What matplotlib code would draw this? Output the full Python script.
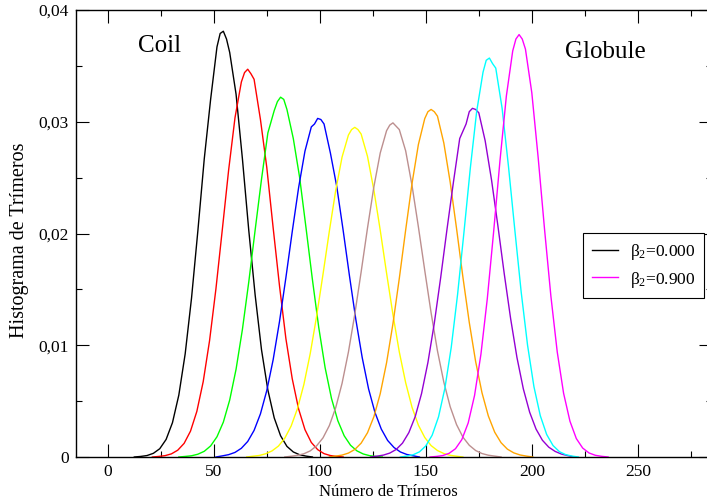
import matplotlib
matplotlib.use('Agg')
import matplotlib.pyplot as plt
import numpy as np
from matplotlib.ticker import MultipleLocator, FixedLocator

# histogram values, sampled every 3 trimers starting at x_start
x_start = [12.5, 21, 33.5, 51, 65.5, 83.5, 104.5, 124, 138, 152]
x_step = 3

black = [0.0, 0.00005, 0.00013, 0.00033, 0.00074, 0.00157, 0.00307, 0.00554, 0.00923, 0.01423,
         0.02027, 0.02668, 0.0320, 0.0367, 0.0381, 0.0362, 0.03247, 0.02668, 0.02027, 0.01450,
         0.00960, 0.00600, 0.00350, 0.00190, 0.00095, 0.00045, 0.00020, 0.00008, 0.0]
red = [0.0, 0.00005, 0.00012, 0.00028, 0.00061, 0.00122, 0.00231, 0.00408, 0.00674, 0.01041,
       0.01504, 0.02032, 0.02568, 0.03036, 0.03356, 0.0347, 0.03380, 0.03020, 0.02590, 0.02050,
       0.01530, 0.01060, 0.00700, 0.00430, 0.00245, 0.00130, 0.00066, 0.00030, 0.00013, 0.00005, 0.0]
green = [0.0, 0.00005, 0.00011, 0.00025, 0.00051, 0.00099, 0.00181, 0.00312, 0.00510, 0.00785,
         0.01142, 0.01567, 0.02031, 0.02485, 0.02900, 0.03100, 0.0322, 0.03110, 0.02850, 0.02500,
         0.02050, 0.01590, 0.01160, 0.00800, 0.00525, 0.00325, 0.00190, 0.00105, 0.00055, 0.00027,
         0.00012, 0.00005, 0.0]
blue = [0.0, 0.00010, 0.00021, 0.00041, 0.00078, 0.00139, 0.00238, 0.00386, 0.00595, 0.00871,
        0.01213, 0.01604, 0.02017, 0.02410, 0.02737, 0.02954, 0.0303, 0.02980, 0.02720, 0.02420,
        0.02030, 0.01620, 0.01230, 0.00890, 0.00610, 0.00400, 0.00250, 0.00148, 0.00085, 0.00045,
        0.00023, 0.00011, 0.0]
yellow = [0.0, 0.00007, 0.00014, 0.00029, 0.00055, 0.00098, 0.00169, 0.00278, 0.00435, 0.00650,
          0.00927, 0.01260, 0.01634, 0.02021, 0.02385, 0.02684, 0.02881, 0.0295, 0.02890, 0.02690,
          0.02390, 0.02030, 0.01645, 0.01275, 0.00940, 0.00665, 0.00445, 0.00285, 0.00175, 0.00102,
          0.00058, 0.00031, 0.00015, 0.00007, 0.0]
brown = [0.0, 0.00007, 0.00015, 0.00029, 0.00055, 0.00100, 0.00171, 0.00281, 0.00441, 0.00659,
         0.00939, 0.01277, 0.01656, 0.02049, 0.02417, 0.02720, 0.02920, 0.0299, 0.02930, 0.02740,
         0.02430, 0.02060, 0.01670, 0.01290, 0.00950, 0.00670, 0.00450, 0.00290, 0.00178, 0.00105,
         0.00058, 0.00031, 0.00016, 0.00008, 0.0]
orange = [0.0, 0.00008, 0.00017, 0.00035, 0.00067, 0.00124, 0.00217, 0.00360, 0.00566, 0.00844,
          0.01192, 0.01598, 0.02031, 0.02447, 0.02796, 0.03028, 0.0311, 0.03050, 0.02810, 0.02460,
          0.02045, 0.01610, 0.01205, 0.00855, 0.00575, 0.00367, 0.00222, 0.00128, 0.00070, 0.00037,
          0.00018, 0.00008, 0.0]
purple = [0.0, 0.00008, 0.00017, 0.00035, 0.00067, 0.00124, 0.00218, 0.00361, 0.00568, 0.00846,
          0.01196, 0.01603, 0.02038, 0.02455, 0.02850, 0.02980, 0.0312, 0.03080, 0.02830, 0.02480,
          0.02070, 0.01640, 0.01240, 0.00890, 0.00610, 0.00400, 0.00250, 0.00150, 0.00088, 0.00050,
          0.00026, 0.00012, 0.0]
cyan = [0.0, 0.00008, 0.00020, 0.00046, 0.00099, 0.00195, 0.00359, 0.00615, 0.00981, 0.01456,
        0.02011, 0.02585, 0.03093, 0.03444, 0.0357, 0.03480, 0.03120, 0.02600, 0.02030, 0.01475,
        0.01000, 0.00630, 0.00370, 0.00202, 0.00103, 0.00048, 0.00021, 0.00008, 0.0]
magenta = [0.0, 0.00005, 0.00013, 0.00033, 0.00074, 0.00156, 0.00305, 0.00551, 0.00919, 0.01415,
           0.02016, 0.02654, 0.03230, 0.03634, 0.0378, 0.03650, 0.03260, 0.02680, 0.02040, 0.01440,
           0.00940, 0.00570, 0.00320, 0.00165, 0.00080, 0.00036, 0.00015, 0.00006, 0.0]

# extra readings just either side of each peak
peak_x = [54.5, 66, 81.5, 99, 116.5, 134.5, 152.5, 172, 180, 194]
near_peak_left = [0.0379, 0.0344, 0.0318, 0.0298, 0.0293, 0.0297, 0.0309, 0.0309, 0.0355, 0.0374]
near_peak_right = [0.0374, 0.0343, 0.0320, 0.0302, 0.0293, 0.0296, 0.0309, 0.0311, 0.0352, 0.0374]

series = [black, red, green, blue, yellow, brown, orange, purple, cyan, magenta]
colors = ['#000000', '#ff0000', '#00ff00', '#0000ff', '#ffff00', '#bc8f8f', '#ffa500',
          '#9400d3', '#00ffff', '#ff00ff']
labels = [r'$\mathregular{β_2}$=0.000'] + [None] * 8 + [r'$\mathregular{β_2}$=0.900']

x_ticks = [0, 50, 100, 150, 200, 250]
y_ticks = [0, 0.01, 0.02, 0.03, 0.04]
y_tick_labels = ['0', '0,01', '0,02', '0,03', '0,04']

plt.rcParams['font.family'] = ['Liberation Serif', 'DejaVu Serif']
plt.rcParams['mathtext.fontset'] = 'custom'
plt.rcParams['mathtext.rm'] = 'Liberation Serif'

W, H = 707, 503
fig = plt.figure(figsize=(W / 100, H / 100), dpi=100)
ax = fig.add_axes([76 / W, 46 / H, 636 / W, 447 / H])

for i, ys in enumerate(series):
    xs = x_start[i] + x_step * np.arange(len(ys))
    xs = np.concatenate([xs, [peak_x[i] - 1.5, peak_x[i] + 1.5]])
    yv = np.concatenate([ys, [near_peak_left[i], near_peak_right[i]]])
    order = np.argsort(xs)
    ax.plot(xs[order], yv[order], color=colors[i], lw=1.0, label=labels[i])

ax.set_xlim(-15, 285)
ax.set_ylim(0, 0.04)
ax.xaxis.set_major_locator(FixedLocator(x_ticks))
ax.xaxis.set_minor_locator(MultipleLocator(25))
ax.set_yticks(y_ticks)
ax.set_yticklabels(y_tick_labels)
ax.yaxis.set_minor_locator(MultipleLocator(0.005))
ax.tick_params(which='both', direction='in', top=True, right=True, width=0.8, labelsize=12.5)
ax.tick_params(which='major', length=9.5, pad=5)
ax.tick_params(which='minor', length=4.5)
for s in ax.spines.values():
    s.set_linewidth(1.0)

ax.text(14.2, 0.0362, 'Coil', fontsize=18, ha='left', va='baseline')
ax.text(215.6, 0.0357, 'Globule', fontsize=18, ha='left', va='baseline')

fig.text(388 / W, 1 - 496 / H, 'Número de Trímeros', fontsize=12, ha='center', va='baseline')
fig.text(20 / W, 1 - 240 / H, 'Histograma de Trímeros', fontsize=14.5, ha='center', va='center',
         rotation=90)

ax.legend(loc='upper left', bbox_to_anchor=(0.797, 0.501), borderaxespad=0, fontsize=12.5,
          frameon=True, fancybox=False, edgecolor='black', framealpha=1, handlelength=1.5,
          handletextpad=0.7, borderpad=0.5, labelspacing=0.45)
ax.get_legend().get_frame().set_linewidth(0.8)

plt.savefig('out.png', dpi=100)
plt.close()
